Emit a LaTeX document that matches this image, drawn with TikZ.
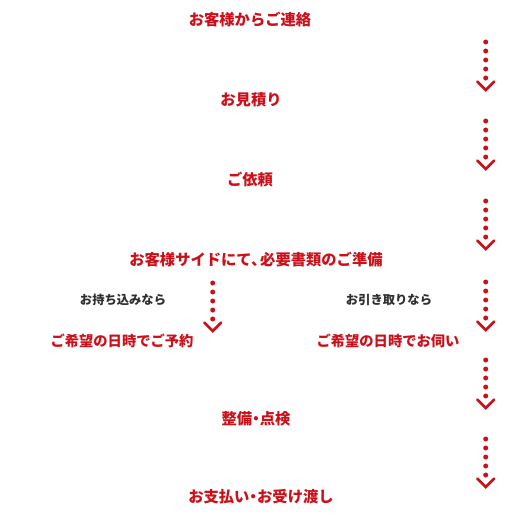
\documentclass[tikz,border=0pt]{standalone}
\usepackage{fontspec}
\newfontfamily\cjk{Noto Sans CJK JP}
\definecolor{stepred}{HTML}{CC1019}
\definecolor{subgray}{HTML}{2E2E2E}
\newcommand{\nakaguro}{\kern-0.25em・\kern-0.25em}
\newcommand{\touten}{、\kern-0.4em}
\begin{document}
\begin{tikzpicture}[x=1pt,y=-1pt,
  stepbox/.style={font=\cjk\bfseries\fontsize{15.3}{17}\selectfont, text=stepred, inner sep=0pt},
  choicebox/.style={font=\cjk\bfseries\fontsize{14.3}{16}\selectfont, text=stepred, inner sep=0pt},
  subbox/.style={font=\cjk\bfseries\fontsize{12.3}{14}\selectfont, text=subgray, inner sep=0pt},
  pics/dotarrow/.style={code={
    \foreach \k in {0,...,4} {\fill[stepred] (0,9*\k) circle (2.5);}
    \draw[stepred, line width=2.6pt, line cap=round, line join=miter] (-8.5,39.5) -- (0,48) -- (8.5,39.5);
  }}]
\useasboundingbox (0,0) rectangle (512,519);
\node[stepbox] (s1) at (250,20) {お客様からご連絡};
\node[stepbox] (s2) at (251,100) {お見積り};
\node[stepbox] (s3) at (250,180) {ご依頼};
\node[stepbox] (s4) at (256,260) {お客様サイドにて\touten 必要書類のご準備};
\node[subbox] (b1) at (123,300) {お持ち込みなら};
\node[subbox] (b2) at (389,300) {お引き取りなら};
\node[choicebox] (s5a) at (122,341) {ご希望の日時でご予約};
\node[choicebox] (s5b) at (388,341) {ご希望の日時でお伺い};
\node[stepbox] (s6) at (256,419) {整備\nakaguro 点検};
\node[stepbox] (s7) at (261,497) {お支払い\nakaguro お受け渡し};
\coordinate (a1) at (485.7,42);
\coordinate (a2) at (485.7,121);
\coordinate (a3) at (485.7,201);
\coordinate (a4) at (485.7,282);
\coordinate (a4l) at (212.7,283);
\coordinate (a5) at (485.7,360);
\coordinate (a6) at (485.7,439);
\foreach \c in {a1,a2,a3,a4,a4l,a5,a6} {\pic at (\c) {dotarrow};}
\end{tikzpicture}
\end{document}
